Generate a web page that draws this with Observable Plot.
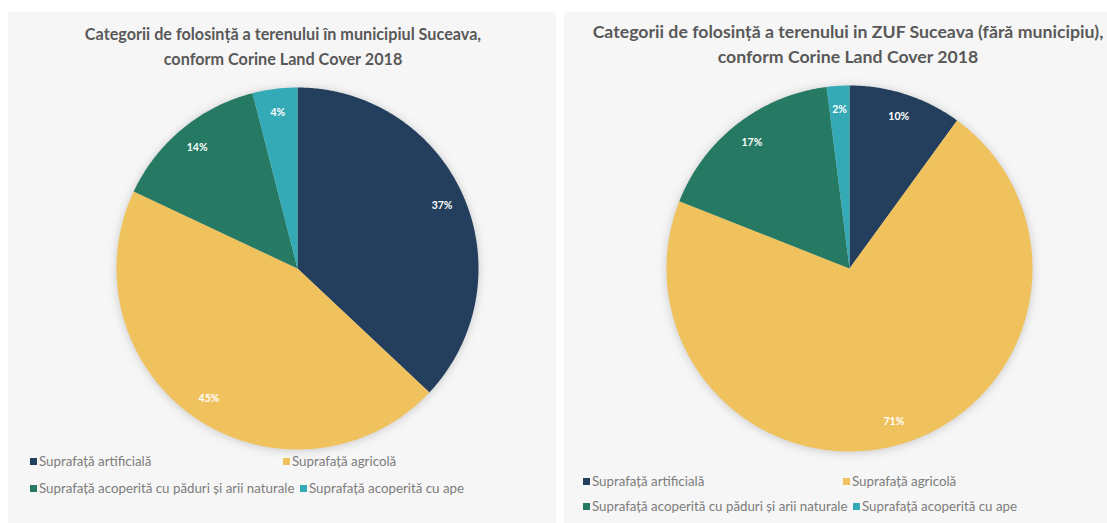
<!DOCTYPE html>
<html>
<head>
<meta charset="utf-8">
<script src="https://cdn.jsdelivr.net/npm/d3@7"></script>
<script src="https://cdn.jsdelivr.net/npm/@observablehq/plot@0.6"></script>
<style>
  html, body { margin: 0; padding: 0; background: #ffffff; }
  #root { position: relative; width: 1107px; height: 523px; overflow: hidden; font-family: Lato, "Open Sans", sans-serif; }
  .panel { position: absolute; top: 12px; height: 511px; background: #f6f6f6; }
  .title { position: absolute; text-align: center; font-weight: bold; line-height: 25px; color: #595959; white-space: nowrap; }
  .pie { position: absolute; left: 0; top: 0; }
  .pie svg g[aria-label="line"] { filter: drop-shadow(0 1px 5px rgba(0,0,0,0.18)); }
  .legrow { position: absolute; font-family: Lato, sans-serif; font-size: 13.3px; color: #7c7c7c; white-space: nowrap; }
  .item { position: absolute; top: 0; display: flex; align-items: center; }
  .sw { display: inline-block; width: 7px; height: 7px; margin-right: 2px; }
</style>
</head>
<body>
<div id="root"></div>
<script>
// ---- data ----
const categories = [
  "Suprafață artificială",
  "Suprafață agricolă",
  "Suprafață acoperită cu păduri și arii naturale",
  "Suprafață acoperită cu ape"
];
const colors = ["#243f5e", "#f0c25e", "#267a64", "#33aab5"];
const municipiuValues = [37, 45, 14, 4];
const zufValues = [10, 71, 17, 2];
const titleMunicipiu = ["Categorii de folosință a terenului în municipiul Suceava,", "conform Corine Land Cover 2018"];
const titleZuf = ["Categorii de folosință a terenului in ZUF Suceava (fără municipiu),", "conform Corine Land Cover 2018"];

const root = document.getElementById("root");

function slicePolygons(values) {
  const arcs = d3.pie().sort(null).startAngle(0).endAngle(2 * Math.PI)(values);
  const pts = [];
  const labels = [];
  arcs.forEach((a, i) => {
    const cat = categories[i];
    pts.push({cat, x: 0, y: 0});
    const n = Math.max(2, Math.ceil((a.endAngle - a.startAngle) / 0.01));
    for (let k = 0; k <= n; k++) {
      const t = a.startAngle + (a.endAngle - a.startAngle) * k / n;
      pts.push({cat, x: Math.sin(t), y: Math.cos(t)});
    }
    pts.push({cat, x: 0, y: 0});
    const m = (a.startAngle + a.endAngle) / 2;
    labels.push({cat, x: 0.87 * Math.sin(m), y: 0.87 * Math.cos(m), text: values[i] + "%"});
  });
  return {pts, labels};
}

function panel(opts) {
  const p = document.createElement("div");
  p.className = "panel";
  p.style.left = opts.left + "px";
  p.style.width = opts.width + "px";
  root.appendChild(p);

  const {pts, labels} = slicePolygons(opts.values);
  const cx = opts.cx, cy = opts.cy, R = opts.r;
  const chart = Plot.plot({
    width: opts.width,
    height: 511,
    margin: 0,
    style: {background: "transparent", overflow: "visible"},
    x: {domain: [-1, 1], range: [cx - R, cx + R], axis: null},
    y: {domain: [-1, 1], range: [cy + R, cy - R], axis: null},
    color: {domain: categories, range: colors},
    marks: [
      Plot.line(pts, {x: "x", y: "y", z: "cat", fill: "cat", stroke: "none", curve: "linear"}),
      Plot.text(labels, {x: "x", y: "y", text: "text", fill: "white", fontWeight: "bold", fontSize: 10.5, fontFamily: "Lato, sans-serif"})
    ]
  });
  const holder = document.createElement("div");
  holder.className = "pie";
  holder.appendChild(chart);
  p.appendChild(holder);

  opts.title.forEach((line, i) => {
    const t = document.createElement("div");
    t.className = "title";
    t.style.top = (opts.titleTop + i * 25) + "px";
    t.style.fontSize = opts.titleSize + "px";
    t.style.left = (opts.titleCenter - 400) + "px";
    t.style.width = "800px";
    t.textContent = line;
    p.appendChild(t);
  });

  // legend
  opts.legend.forEach(row => {
    const r = document.createElement("div");
    r.className = "legrow";
    r.style.top = row.top + "px";
    r.style.left = "0px";
    p.appendChild(r);
    row.items.forEach(([idx, x]) => {
      const it = document.createElement("div");
      it.className = "item";
      it.style.left = x + "px";
      const sw = document.createElement("span");
      sw.className = "sw";
      sw.style.background = colors[idx];
      it.appendChild(sw);
      it.appendChild(document.createTextNode(categories[idx]));
      r.appendChild(it);
    });
  });
}

panel({
  left: 8, width: 548, cx: 289, cy: 256, r: 181,
  values: municipiuValues, title: titleMunicipiu, titleTop: 9, titleSize: 16.2, titleCenter: 275,
  legend: [
    {top: 441, items: [[0, 22], [1, 275]]},
    {top: 468, items: [[2, 22], [3, 292]]}
  ]
});
panel({
  left: 564, width: 543, cx: 285, cy: 256, r: 183,
  values: zufValues, title: titleZuf, titleTop: 7, titleSize: 17.7, titleCenter: 284,
  legend: [
    {top: 461, items: [[0, 19], [1, 279]]},
    {top: 486, items: [[2, 19], [3, 289]]}
  ]
});
</script>
</body>
</html>
